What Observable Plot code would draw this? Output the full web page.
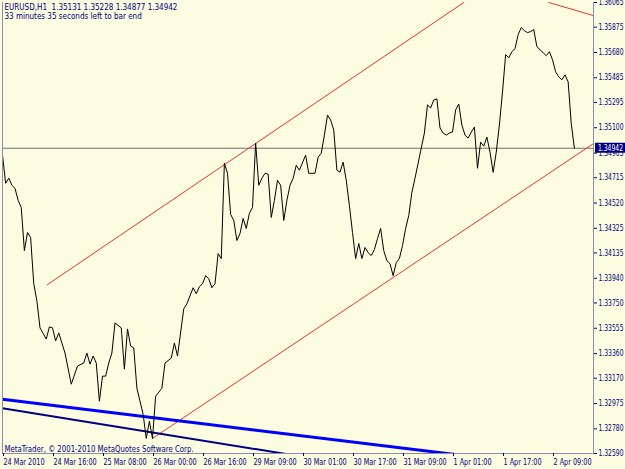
<!DOCTYPE html>
<html>
<head>
<meta charset="utf-8">
<script src="https://cdn.jsdelivr.net/npm/d3@7"></script>
<script src="https://cdn.jsdelivr.net/npm/@observablehq/plot@0.6"></script>
<style>
  html, body { margin: 0; padding: 0; background: #FCFCE0; }
  #chart svg { display: block; }
</style>
</head>
<body>
<div id="chart"></div>
<script>
// ---- Data (hourly bar index, close price) ----
const barIndex = [0,1,2,3,4,5,6,7,8,9,10,11,12,14,15,16,17,18,20,22,24,26,27,28,29,30,31,32,33,34,35,36,38,39,40,41,42,43,45,46,47,48,49,51,52,54,55,56,58,59,61,62,63,64,65,66,67,68,69,70,71,72,73,74,75,76,77,78,79,80,81,82,83,84,85,86,87,88,89,90,91,92,93,94,95,97,98,99,100,101,102,103,104,105,106,107,108,109,110,111,112,113,114,115,116,117,118,119,120,121,122,123,124,125,126,127,128,129,130,131,132,133,134,135,136,137,138,139,140,141,142,143,144,145,146,147,148,149,150,151,152,153,154,155,156,157,158,159,160,161,162,163,164,165,166,167,168,169,170,171,172,173,174,175,176,177,178,179,180,181,182,183];
const closePrice = [1.34889,1.34672,1.34711,1.34657,1.34633,1.34540,1.34486,1.34153,1.34293,1.34254,1.33898,1.33767,1.33558,1.33472,1.33565,1.33558,1.33457,1.33519,1.33364,1.33124,1.33264,1.33287,1.33364,1.33279,1.33341,1.33287,1.32993,1.33186,1.33186,1.33287,1.33364,1.33596,1.33558,1.33240,1.33550,1.33418,1.33403,1.33093,1.32892,1.32706,1.32838,1.32706,1.33031,1.33093,1.33287,1.33325,1.33442,1.33341,1.33705,1.33743,1.33867,1.33821,1.33875,1.33898,1.33960,1.33937,1.33867,1.33898,1.34130,1.34092,1.34827,1.34749,1.34432,1.34386,1.34231,1.34285,1.34401,1.34324,1.34440,1.34486,1.34982,1.34657,1.34711,1.34749,1.34742,1.34409,1.34540,1.34695,1.34657,1.34386,1.34540,1.34657,1.34711,1.34811,1.34773,1.34889,1.34749,1.34749,1.34749,1.34873,1.34904,1.35043,1.35198,1.35160,1.35082,1.34773,1.34757,1.34835,1.34695,1.34502,1.34293,1.34092,1.34208,1.34092,1.34177,1.34138,1.34115,1.34161,1.34246,1.34324,1.34153,1.34076,1.34053,1.33960,1.34061,1.34092,1.34192,1.34324,1.34424,1.34602,1.34711,1.34827,1.34943,1.35059,1.35276,1.35252,1.35314,1.35322,1.35098,1.35059,1.35043,1.35059,1.35067,1.35237,1.35283,1.35121,1.35043,1.35020,1.35067,1.35105,1.34788,1.34989,1.34958,1.35028,1.34912,1.34757,1.34912,1.35121,1.35376,1.35663,1.35639,1.35686,1.35709,1.35817,1.35872,1.35848,1.35833,1.35841,1.35856,1.35725,1.35701,1.35678,1.35655,1.35686,1.35624,1.35531,1.35492,1.35469,1.35508,1.35454,1.35131,1.34942];

// x-axis tick bars and labels
const xTickBars = [0,16,32,48,64,80,96,112,128,144,160,176];
const xTickLabels = ["24 Mar 2010","24 Mar 16:00","25 Mar 08:00","26 Mar 00:00","26 Mar 16:00","29 Mar 09:00","30 Mar 01:00","30 Mar 17:00","31 Mar 09:00","1 Apr 01:00","1 Apr 17:00","2 Apr 09:00"];
// price-axis tick values
const yTickValues = [1.36065,1.35875,1.35680,1.35485,1.35295,1.35100,1.34905,1.34715,1.34520,1.34325,1.34135,1.33940,1.33750,1.33555,1.33360,1.33170,1.32975,1.32780,1.32590];
const priceMin = 1.32590, priceMax = 1.36065;
const lastBarSlot = 189.12; // bar slots visible

// Trend lines (bar index, price) endpoints
const channelUpperX = [14.3, 147.6], channelUpperY = [1.33890, 1.36065];
const channelLowerX = [48, 189.12], channelLowerY = [1.32706, 1.34978];
const channel2UpperX = [174.8, 189.12], channel2UpperY = [1.36065, 1.35964];
const blueLineX = [0, 145], blueLineY = [1.33008, 1.32582];
const navyLineX = [0, 91.8], navyLineY = [1.32938, 1.32582];

const headerText = "EURUSD,H1  1.35131 1.35228 1.34877 1.34942\n33 minutes 35 seconds left to bar end";
const footerText = "MetaTrader, \u00A9 2001-2010 MetaQuotes Software Corp.";
const lastClose = closePrice[closePrice.length - 1];

const series = barIndex.map((b, i) => ({b, p: closePrice[i]}));
const seg = (xs, ys) => xs.map((x, i) => ({x, y: ys[i]}));

const FONT = "'Liberation Sans Narrow','Arial Narrow','DejaVu Sans Condensed','Liberation Sans',sans-serif";
const NAVY = "#000080";
const BG = "#FCFCE0";

const plot = Plot.plot({
  width: 625,
  height: 469,
  marginLeft: 2,
  marginRight: 32,
  marginTop: 2,
  marginBottom: 16,
  style: {background: BG, fontFamily: FONT, fontSize: "8px", color: NAVY},
  x: {domain: [0, lastBarSlot], axis: null},
  y: {domain: [priceMin, priceMax], axis: null},
  marks: [
    Plot.ruleY([lastClose], {stroke: "#707070", strokeWidth: 1}),
    Plot.line(seg(channelUpperX, channelUpperY), {x: "x", y: "y", stroke: "#f03030", strokeWidth: 1, clip: true}),
    Plot.line(seg(channelLowerX, channelLowerY), {x: "x", y: "y", stroke: "#f03030", strokeWidth: 1, clip: true}),
    Plot.line(seg(channel2UpperX, channel2UpperY), {x: "x", y: "y", stroke: "#f03030", strokeWidth: 1, clip: true}),
    Plot.line(seg(navyLineX, navyLineY), {x: "x", y: "y", stroke: "#000080", strokeWidth: 2, clip: true}),
    Plot.line(seg(blueLineX, blueLineY), {x: "x", y: "y", stroke: "#0000ff", strokeWidth: 3, clip: true}),
    Plot.line(series, {x: "b", y: "p", stroke: "#000000", strokeWidth: 1, clip: true}),
    Plot.frame({anchor: "left", stroke: "#8c8cb0"}),
    Plot.frame({anchor: "right", stroke: "#8c8cb0"}),
    Plot.frame({anchor: "bottom", stroke: "#8c8cb0"}),
    Plot.axisY(yTickValues, {anchor: "right", tickSize: 3, tickPadding: 2, tickFormat: d => d.toFixed(5), stroke: NAVY, fill: NAVY, fontSize: 8}),
    Plot.axisX(xTickBars, {anchor: "bottom", tickSize: 3, tickPadding: 3, tickFormat: d => xTickLabels[xTickBars.indexOf(d)], textAnchor: "start", dx: 1, stroke: NAVY, fill: NAVY, fontSize: 8}),
    Plot.text([headerText], {frameAnchor: "top-left", text: d => d, textAnchor: "start", lineAnchor: "top", dx: 2, dy: 1, fill: NAVY, fontSize: 8, lineHeight: 1.12}),
    Plot.text([footerText], {frameAnchor: "bottom-left", text: d => d, textAnchor: "start", lineAnchor: "bottom", dx: 2, dy: -2, fill: NAVY, fontSize: 8})
  ]
});

document.getElementById("chart").appendChild(plot);
const svg = d3.select(plot);

// condense axis and footer text to the narrow look of the original
function condense(sel, factor) {
  sel.each(function () {
    const w = this.getComputedTextLength();
    if (w > 0) {
      this.setAttribute("textLength", (w * factor).toFixed(1));
      this.setAttribute("lengthAdjust", "spacingAndGlyphs");
    }
  });
}
condense(svg.selectAll('g[aria-label="y-axis tick label"] text'), 0.84);
condense(svg.selectAll('g[aria-label="x-axis tick label"] text'), 0.9);
condense(svg.selectAll('g[aria-label="text"] text').filter(function () { return this.textContent.startsWith("MetaTrader"); }), 0.97);

// price label box at the current close, placed with the plot's own scales
const yPix = plot.scale("y").apply(lastClose);
const xRight = plot.scale("x").apply(lastBarSlot);
svg.append("rect")
  .attr("x", xRight + 2).attr("y", yPix - 5)
  .attr("width", 625 - xRight - 2).attr("height", 10)
  .attr("fill", NAVY);
const priceText = svg.append("text")
  .attr("x", xRight + 5).attr("y", yPix + 3)
  .attr("text-anchor", "start")
  .attr("fill", "white")
  .attr("font-family", FONT).attr("font-size", 8)
  .text(lastClose.toFixed(5));
condense(priceText, 0.84);
</script>
</body>
</html>
